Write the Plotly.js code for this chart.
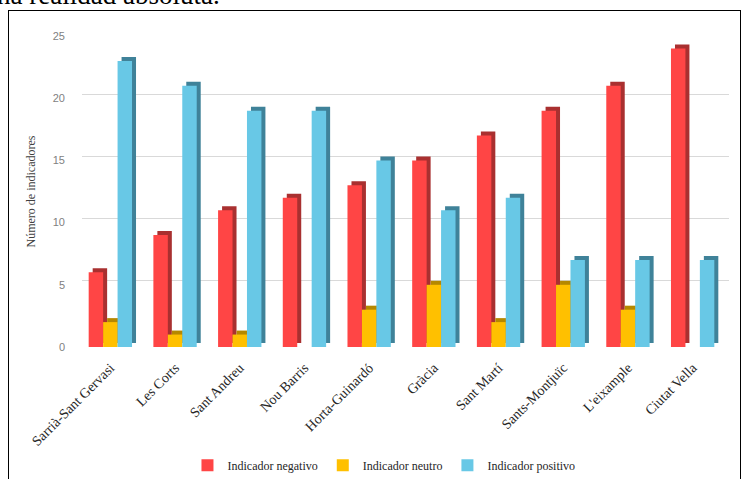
<!DOCTYPE html>
<html>
<head>
<meta charset="utf-8">
<script src="https://cdn.plot.ly/plotly-3.0.1.min.js"></script>
<style>
  html, body { margin: 0; padding: 0; background: #fff; overflow: hidden; }
  #frame { position: absolute; left: 8px; top: 10px; width: 733px; height: 480px; border: 1px solid #000; box-sizing: border-box; }
  #doc { position: absolute; left: -3px; top: -18px; font-family: "Liberation Serif"; font-size: 27px; line-height: 26px; color: #000; white-space: nowrap; }
  #chart { position: absolute; left: 0; top: 0; width: 746px; height: 479px; }
</style>
</head>
<body>
<div id="doc">na realidad absoluta.</div>
<div id="frame"></div>
<div id="chart"></div>
<script>
const categories = ["Sarrià-Sant Gervasi", "Les Corts", "Sant Andreu", "Nou Barris", "Horta-Guinardó", "Gràcia", "Sant Martí", "Sants-Montjuïc", "L'eixample", "Ciutat Vella"];
const negativo = [6, 9, 11, 12, 13, 15, 17, 19, 21, 24];
const neutro   = [2, 1, 1, 0, 3, 5, 2, 5, 3, 0];
const positivo = [23, 21, 19, 19, 15, 11, 12, 7, 7, 7];
const yTicks = [0, 5, 10, 15, 20, 25];

const seriesNames = ["Indicador negativo", "Indicador neutro", "Indicador positivo"];
const seriesData = [negativo, neutro, positivo];
const frontColors = ["#FF4545", "#FFC000", "#68C8E6"];
const sideColors = ["#A93030", "#B58800", "#3F8299"];

const W = 746, H = 479;
const margin = {l: 78, r: 17, t: 32, b: 132, autoexpand: false};
const plotW = W - margin.l - margin.r;
const plotH = H - margin.t - margin.b;
const depthPx = 4;
const yMax = 25;
const fx = depthPx / plotW;
const fy = depthPx / plotH;

const serif = "Liberation Serif";
const traces = [];
// depth (side/top faces) drawn on the back subplot, shifted up-right
seriesData.forEach((vals, i) => {
  traces.push({
    type: "bar", x: categories, y: vals, name: seriesNames[i],
    marker: {color: sideColors[i]}, xaxis: "x", yaxis: "y",
    showlegend: false, hoverinfo: "skip"
  });
});
// front faces
seriesData.forEach((vals, i) => {
  traces.push({
    type: "bar", x: categories, y: vals, name: seriesNames[i],
    marker: {color: frontColors[i]}, xaxis: "x2", yaxis: "y2"
  });
});

const layout = {
  width: W, height: H,
  margin: margin,
  paper_bgcolor: "rgba(0,0,0,0)",
  plot_bgcolor: "rgba(0,0,0,0)",
  font: {family: serif, color: "#404040"},
  barmode: "group",
  bargap: 0.33,
  bargroupgap: 0,
  showlegend: true,
  legend: {
    orientation: "h", x: 0.47, xanchor: "center", y: -0.375, yanchor: "middle",
    font: {family: serif, size: 12, color: "#262626"},
    itemwidth: 30, traceorder: "normal"
  },
  xaxis: {
    type: "category", anchor: "y", domain: [fx, 1], range: [-0.5, categories.length - 0.5],
    showticklabels: false, showgrid: false, zeroline: false, showline: false,
    automargin: false, fixedrange: true
  },
  yaxis: {
    anchor: "x", domain: [fy, 1], range: [0, yMax], tickvals: yTicks, showticklabels: false,
    showgrid: true, gridcolor: "#D9D9D9", gridwidth: 1, zeroline: false, showline: false,
    automargin: false, fixedrange: true
  },
  xaxis2: {
    type: "category", anchor: "y2", side: "bottom",
    domain: [0, 1 - fx], range: [-0.5, categories.length - 0.5],
    tickangle: -45, showgrid: false, zeroline: false, showline: false, ticks: "",
    ticklabelstandoff: 9,
    tickfont: {family: serif, size: 14, color: "#262626"},
    automargin: false, fixedrange: true
  },
  yaxis2: {
    anchor: "x2", side: "left",
    domain: [0, 1 - fy], range: [0, yMax], tickvals: yTicks, ticks: "",
    showgrid: false, zeroline: false, showline: false,
    ticklabelstandoff: 12,
    tickfont: {family: "Liberation Sans", size: 11, color: "#7F7F7F"},
    title: {text: "Número de indicadores", standoff: 14,
            font: {family: serif, size: 12, color: "#404040"}},
    automargin: false, fixedrange: true
  }
};

Plotly.newPlot("chart", traces, layout, {displayModeBar: false, staticPlot: true});
</script>
</body>
</html>
